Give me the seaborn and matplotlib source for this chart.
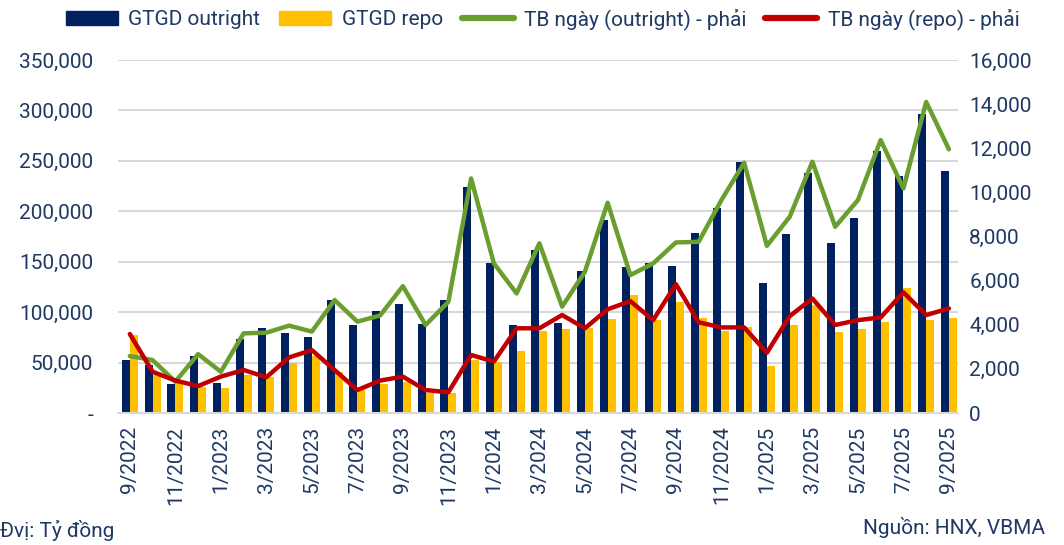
import numpy as np
import pandas as pd
import matplotlib
matplotlib.use("Agg")
import matplotlib.pyplot as plt
import seaborn as sns
from matplotlib.ticker import FuncFormatter, FixedLocator, MultipleLocator
from matplotlib.patches import Patch
from matplotlib.lines import Line2D

months = ['9/2022', '10/2022', '11/2022', '12/2022', '1/2023', '2/2023', '3/2023', '4/2023',
          '5/2023', '6/2023', '7/2023', '8/2023', '9/2023', '10/2023', '11/2023', '12/2023',
          '1/2024', '2/2024', '3/2024', '4/2024', '5/2024', '6/2024', '7/2024', '8/2024',
          '9/2024', '10/2024', '11/2024', '12/2024', '1/2025', '2/2025', '3/2025', '4/2025',
          '5/2025', '6/2025', '7/2025', '8/2025', '9/2025']

# gia tri giao dich (ty dong) - truc trai
outright = [53000, 48000, 29000, 57000, 30000, 73000, 84000, 79000, 75000, 112000, 87000, 101000,
            108000, 88000, 112000, 224000, 149000, 87000, 162000, 89000, 141000, 191000, 145000, 149000,
            146000, 178000, 203000, 249000, 129000, 177000, 238000, 169000, 193000, 260000, 235000, 296000,
            240000]
repo = [77000, 38000, 30000, 26000, 25000, 38000, 36000, 50000, 57000, 41000, 23000, 29000,
        31000, 20000, 20000, 53000, 51000, 61000, 81000, 83000, 84000, 93000, 117000, 92000,
        110000, 94000, 81000, 85000, 47000, 87000, 107000, 80000, 83000, 90000, 124000, 92000,
        94000]

# trung binh ngay - truc phai
tb_outright = [2580, 2400, 1420, 2670, 1870, 3610, 3640, 3960, 3690, 5120, 4140, 4420,
               5750, 3990, 5040, 10630, 6780, 5420, 7690, 4820, 6400, 9530, 6250, 6780,
               7730, 7760, 9650, 11340, 7580, 8890, 11390, 8440, 9650, 12370, 10180, 14100,
               11950]
tb_repo = [3580, 1870, 1470, 1220, 1650, 1950, 1620, 2520, 2850, 1950, 1040, 1470,
           1650, 1040, 940, 2630, 2330, 3840, 3840, 4440, 3840, 4700, 5070, 4210,
           5840, 4110, 3880, 3880, 2730, 4390, 5190, 3990, 4210, 4330, 5470, 4440,
           4740]

series_names = ['GTGD outright', 'GTGD repo', 'TB ngày (outright) - phải', 'TB ngày (repo) - phải']
navy, yellow, green, red = '#002060', '#FFC000', '#6A9E2E', '#C00000'
txt = '#1F3864'

sns.set_style("white")
plt.rcParams['font.family'] = ['Roboto', 'DejaVu Sans']

df = pd.DataFrame({
    'month': months * 2,
    'value': outright + repo,
    'series': [series_names[0]] * len(months) + [series_names[1]] * len(months),
})

fig = plt.figure(figsize=(10.64, 5.45), dpi=100)
ax = fig.add_axes([0.1109, 0.2422, 0.7895, 0.6477])

sns.barplot(data=df, x='month', y='value', hue='series', order=months,
            hue_order=series_names[:2], palette=[navy, yellow], width=0.7,
            saturation=1, legend=False, linewidth=0, ax=ax)

ax2 = ax.twinx()
x_pos = np.arange(len(months))
sns.lineplot(x=x_pos, y=tb_outright, color=green, linewidth=3.2, ax=ax2)
sns.lineplot(x=x_pos, y=tb_repo, color=red, linewidth=3.2, ax=ax2)

ax.set_xlim(-0.52, len(months) - 0.6)
ax.set_ylim(0, 350000)
ax2.set_ylim(0, 16000)
ax.yaxis.set_major_locator(MultipleLocator(50000))
ax2.yaxis.set_major_locator(MultipleLocator(2000))
ax.yaxis.set_major_formatter(FuncFormatter(lambda v, p: '-' if v == 0 else f'{v:,.0f}'))
ax2.yaxis.set_major_formatter(FuncFormatter(lambda v, p: f'{v:,.0f}'))

ax.grid(axis='y', color='#D9D9D9', linewidth=1.5)
ax.grid(axis='x', visible=False)
ax.set_axisbelow(True)

# nhan truc x: cach 2 thang
ax.set_xticks(x_pos[::2])
ax.set_xticklabels(months[::2], rotation=90)
ax.xaxis.set_minor_locator(FixedLocator(np.arange(-0.5, len(months), 2)))
ax.tick_params(axis='x', which='major', length=0, pad=9, labelsize=15, labelcolor=txt)
ax.tick_params(axis='x', which='minor', length=7, width=1, color='#D9D9D9')
ax.tick_params(axis='y', length=0, pad=18, labelsize=15, labelcolor=txt)
ax2.tick_params(axis='y', length=0, pad=8, labelsize=15, labelcolor=txt)
ax.set_xlabel('')
ax.set_ylabel('')
ax2.set_ylabel('')

for a in (ax, ax2):
    for s in a.spines.values():
        s.set_visible(False)
ax.spines['bottom'].set_visible(True)
ax.spines['bottom'].set_color('#D9D9D9')
ax.spines['bottom'].set_linewidth(1.5)

handles = [Patch(color=navy), Patch(color=yellow),
           Line2D([], [], color=green, linewidth=4.5),
           Line2D([], [], color=red, linewidth=4.5)]
fig.legend(handles, series_names, loc='center', bbox_to_anchor=(0.51, 0.965), ncol=4,
           frameon=False, fontsize=15, labelcolor=txt, handlelength=2.5, handleheight=0.7,
           handletextpad=0.5, columnspacing=0.9)

fig.text(0.0, 0.008, 'Đvị: Tỷ đồng', fontsize=15, color=txt, ha='left', va='bottom')
fig.text(0.982, 0.012, 'Nguồn: HNX, VBMA', fontsize=15, color=txt, ha='right', va='bottom')

fig.savefig('out.png', dpi=100)
